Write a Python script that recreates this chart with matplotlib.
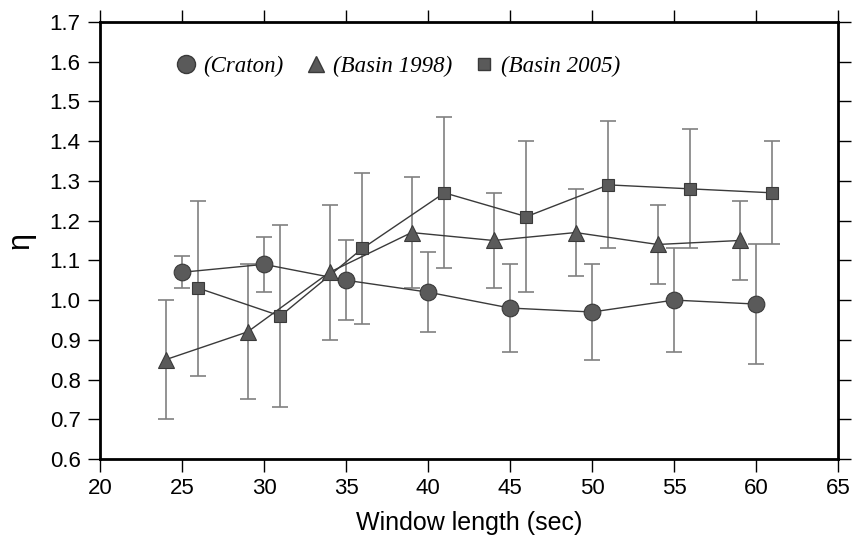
"""Eta versus window length for the craton and the two basin data sets."""

import matplotlib
matplotlib.use("Agg")
import matplotlib.pyplot as plt
from matplotlib.lines import Line2D

# Craton (circles)
CRATON_X = [25, 30, 35, 40, 45, 50, 55, 60]
CRATON_Y = [1.07, 1.09, 1.05, 1.02, 0.98, 0.97, 1.00, 0.99]
CRATON_LO = [1.03, 1.02, 0.95, 0.92, 0.87, 0.85, 0.87, 0.84]
CRATON_HI = [1.11, 1.16, 1.15, 1.12, 1.09, 1.09, 1.13, 1.14]

# Basin 1998 (triangles)
B98_X = [24, 29, 34, 39, 44, 49, 54, 59]
B98_Y = [0.85, 0.92, 1.07, 1.17, 1.15, 1.17, 1.14, 1.15]
B98_LO = [0.70, 0.75, 0.90, 1.03, 1.03, 1.06, 1.04, 1.05]
B98_HI = [1.00, 1.09, 1.24, 1.31, 1.27, 1.28, 1.24, 1.25]

# Basin 2005 (squares)
B05_X = [26, 31, 36, 41, 46, 51, 56, 61]
B05_Y = [1.03, 0.96, 1.13, 1.27, 1.21, 1.29, 1.28, 1.27]
B05_LO = [0.81, 0.73, 0.94, 1.08, 1.02, 1.13, 1.13, 1.14]
B05_HI = [1.25, 1.19, 1.32, 1.46, 1.40, 1.45, 1.43, 1.40]

LABELS = ["(Craton)", "(Basin 1998)", "(Basin 2005)"]

plt.rcParams["font.family"] = ["Liberation Sans", "DejaVu Sans"]

fig = plt.figure(figsize=(8.54, 5.42), dpi=100)
ax = fig.add_axes([100 / 854, 1 - 459 / 542, 738 / 854, 437 / 542])

series = [
    (CRATON_X, CRATON_Y, CRATON_LO, CRATON_HI, "o", 12),
    (B98_X, B98_Y, B98_LO, B98_HI, "^", 11),
    (B05_X, B05_Y, B05_LO, B05_HI, "s", 9),
]

for x, y, lo, hi, mk, ms in series:
    yerr = [[v - l for v, l in zip(y, lo)], [h - v for v, h in zip(y, hi)]]
    ax.errorbar(x, y, yerr=yerr, fmt="none", ecolor="#808080", elinewidth=1.2,
                capsize=6, capthick=1.2, zorder=2)
    ax.plot(x, y, color="#3a3a3a", lw=1.0, zorder=3)
    ax.plot(x, y, ls="none", marker=mk, ms=ms, mfc="#5a5a5a", mec="#3a3a3a",
            mew=0.8, zorder=4)

ax.set_xlim(20, 65)
ax.set_ylim(0.6, 1.7)
ax.set_xticks(range(20, 66, 5))
ax.set_yticks([0.6 + 0.1 * i for i in range(12)])
ax.set_yticklabels([f"{0.6 + 0.1 * i:.1f}" for i in range(12)])

for s in ax.spines.values():
    s.set_linewidth(2)
ax.tick_params(direction="out", length=9, width=1, labelsize=16,
               top=True, right=True, pad=5)

ax.set_xlabel("Window length (sec)", fontsize=18, labelpad=8)
ax.set_ylabel("η", fontsize=22, labelpad=10)

handles = [
    Line2D([], [], ls="none", marker="o", ms=13, mfc="#5a5a5a", mec="#3a3a3a"),
    Line2D([], [], ls="none", marker="^", ms=11, mfc="#5a5a5a", mec="#3a3a3a"),
    Line2D([], [], ls="none", marker="s", ms=9, mfc="#5a5a5a", mec="#3a3a3a"),
]
leg = ax.legend(handles, LABELS, ncol=3, loc="upper left",
                bbox_to_anchor=(0.07, 0.97), frameon=False,
                handletextpad=0.15, columnspacing=0.8, handlelength=1.2,
                prop={"family": "Liberation Serif", "style": "italic", "size": 16.5})

fig.savefig("out.png", dpi=100)
